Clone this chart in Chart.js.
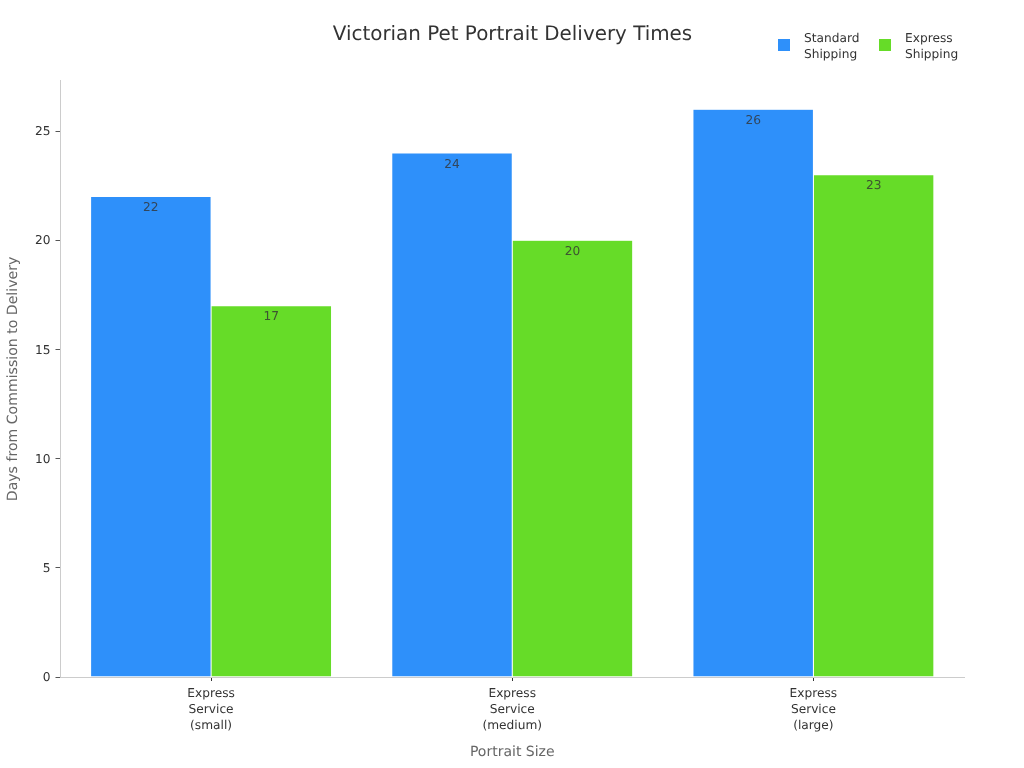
<!DOCTYPE html>
<html>
<head>
<meta charset="utf-8">
<title>Victorian Pet Portrait Delivery Times</title>
<script src="https://cdn.jsdelivr.net/npm/chart.js@4"></script>
<style>
    body { margin: 0; background: #fff; }
    canvas { display: block; }
</style>
</head>
<body>
<canvas id="barChart" width="1024" height="768"></canvas>
<script>
const categories = [
    ['Express', 'Service', '(small)'],
    ['Express', 'Service', '(medium)'],
    ['Express', 'Service', '(large)']
];
const standardShipping = [22, 24, 26];
const expressShipping = [17, 20, 23];
const standardLabel = ['Standard', 'Shipping'];
const expressLabel = ['Express', 'Shipping'];
const yTicks = [0, 5, 10, 15, 20, 25];

const FONT = '"DejaVu Sans", sans-serif';

// unhinted text and a title centred on the whole canvas
const pageSetup = {
    id: 'pageSetup',
    afterLayout(chart) {
        chart.titleBlock.left = 0;
        chart.titleBlock.right = chart.width + 1;
    },
    beforeDraw(chart) {
        chart.ctx.textRendering = 'geometricPrecision';
    }
};

// value labels just inside the top of each bar
const barValues = {
    id: 'barValues',
    afterDatasetsDraw(chart) {
        const ctx = chart.ctx;
        ctx.save();
        ctx.font = '12.2px ' + FONT;
        ctx.fillStyle = 'rgba(51,51,51,0.8)';
        ctx.textAlign = 'center';
        ctx.textBaseline = 'middle';
        chart.data.datasets.forEach((ds, i) => {
            chart.getDatasetMeta(i).data.forEach((bar, j) => {
                ctx.fillText(ds.data[j], bar.x, bar.y + 11.5);
            });
        });
        ctx.restore();
    }
};

// legend with two line labels, the built in one does not wrap
const wrappedLegend = {
    id: 'wrappedLegend',
    afterDraw(chart) {
        const ctx = chart.ctx;
        const xs = [778, 879];
        ctx.save();
        ctx.font = '12.2px ' + FONT;
        ctx.textBaseline = 'middle';
        ctx.textAlign = 'left';
        chart.data.datasets.forEach((ds, i) => {
            ctx.fillStyle = ds.backgroundColor;
            ctx.fillRect(xs[i], 39, 12, 12);
            ctx.fillStyle = '#333';
            ds.label.forEach((line, k) => ctx.fillText(line, xs[i] + 26, 38.5 + k * 16));
        });
        ctx.restore();
    }
};

new Chart(document.getElementById('barChart').getContext('2d'), {
    type: 'bar',
    data: {
        labels: categories,
        datasets: [
            {label: standardLabel, data: standardShipping, backgroundColor: '#2E90FA', borderColor: '#fff', borderWidth: 0.5},
            {label: expressLabel, data: expressShipping, backgroundColor: '#66DC28', borderColor: '#fff', borderWidth: 0.5}
        ]
    },
    options: {
        responsive: false,
        animation: false,
        layout: {padding: {left: 5, right: 60, top: 0, bottom: 7}},
        categoryPercentage: 0.8,
        barPercentage: 1,
        scales: {
            x: {
                grid: {drawOnChartArea: false, offset: false, tickLength: 4, tickColor: '#333'},
                border: {color: '#ccc'},
                ticks: {color: '#333', font: {family: FONT, size: 12.2, lineHeight: 1.31}, padding: 5, maxRotation: 0, autoSkip: false},
                title: {display: true, text: 'Portrait Size', color: '#666', font: {family: FONT, size: 14}, padding: {top: 10, bottom: 0}},
                afterFit: (scale) => { scale.height = 84; }
            },
            y: {
                min: 0,
                max: 27.3,
                grid: {drawOnChartArea: false, tickLength: 5, tickColor: '#555'},
                border: {color: '#ccc'},
                afterBuildTicks: (scale) => { scale.ticks = yTicks.map(v => ({value: v})); },
                ticks: {color: '#333', font: {family: FONT, size: 12.2}, padding: 5, labelOffset: 1},
                title: {display: true, text: 'Days from Commission to Delivery', color: '#666', font: {family: FONT, size: 14.1}, padding: {top: 0, bottom: 4}},
                afterFit: (scale) => { scale.width = 55.5; }
            }
        },
        plugins: {
            legend: {display: false},
            tooltip: {enabled: false},
            title: {
                display: true,
                text: 'Victorian Pet Portrait Delivery Times',
                color: '#333',
                font: {family: FONT, size: 19.9, weight: 'normal'},
                padding: {top: 23, bottom: 34}
            }
        }
    },
    plugins: [pageSetup, barValues, wrappedLegend]
});
</script>
</body>
</html>
